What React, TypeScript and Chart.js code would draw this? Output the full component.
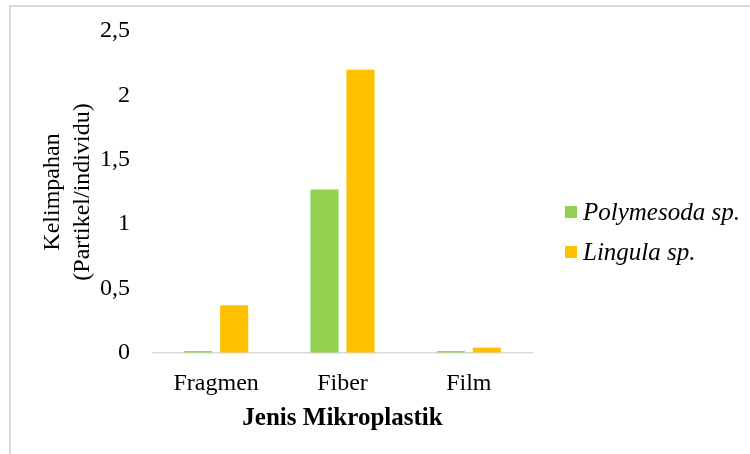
import React, { useEffect, useRef } from "react";
import { Chart, registerables } from "chart.js";

Chart.register(...registerables);

const categories = ["Fragmen", "Fiber", "Film"];
const polymesodaValues = [0.015, 1.27, 0.015];
const lingulaValues = [0.37, 2.2, 0.042];
const seriesNames = ["Polymesoda sp.", "Lingula sp."];
const seriesColors = ["#92D050", "#FFC000"];
const yTicks = [0, 0.5, 1, 1.5, 2, 2.5];
const yTitle = ["Kelimpahan", "(Partikel/individu)"];
const xTitle = "Jenis Mikroplastik";

const FONT = "'Liberation Serif', 'Times New Roman', serif";

// Legend drawn to the right of the plot, from the datasets' own labels/colours
const sideLegend = {
  id: "sideLegend",
  afterDraw(chart: any) {
    const ctx = chart.ctx;
    const area = chart.chartArea;
    const x0 = area.right + 33;
    const y0 = 212;
    const gap = 40;
    ctx.save();
    ctx.font = `italic 25px ${FONT}`;
    ctx.textBaseline = "middle";
    ctx.textAlign = "left";
    chart.data.datasets.forEach((ds: any, i: number) => {
      const cy = y0 + i * gap;
      ctx.fillStyle = ds.backgroundColor;
      ctx.fillRect(x0, cy - 6, 12, 12);
      ctx.fillStyle = "#000";
      ctx.fillText(ds.label, x0 + 18, cy + 1);
    });
    ctx.restore();
  },
};

export default function App() {
  const canvasRef = useRef<HTMLCanvasElement | null>(null);

  useEffect(() => {
    if (!canvasRef.current) return;
    const chart = new Chart(canvasRef.current, {
      type: "bar",
      data: {
        labels: categories,
        datasets: [
          {
            label: seriesNames[0],
            data: polymesodaValues,
            backgroundColor: seriesColors[0],
            borderWidth: 0,
            categoryPercentage: 0.57,
            barPercentage: 0.78,
          },
          {
            label: seriesNames[1],
            data: lingulaValues,
            backgroundColor: seriesColors[1],
            borderWidth: 0,
            categoryPercentage: 0.57,
            barPercentage: 0.78,
          },
        ],
      },
      options: {
        animation: false,
        responsive: true,
        maintainAspectRatio: false,
        layout: { padding: { top: 31, bottom: 20, left: 30, right: 218 } },
        plugins: {
          tooltip: { enabled: false },
          legend: { display: false },
        },
        scales: {
          x: {
            grid: { display: false, drawTicks: false },
            border: { display: true, color: "#D9D9D9", width: 1.5 },
            ticks: { color: "#000", padding: 16, font: { family: FONT, size: 24 } },
            title: {
              display: true,
              text: xTitle,
              color: "#000",
              padding: { top: 0, bottom: 0 },
              font: { family: FONT, size: 25, weight: "bold", lineHeight: 1.2 },
            },
            afterFit: (scale: any) => {
              scale.height = 81;
            },
          },
          y: {
            min: 0,
            max: 2.5,
            afterBuildTicks: (scale: any) => {
              scale.ticks = yTicks.map((v) => ({ value: v }));
            },
            grid: {
              display: true,
              drawOnChartArea: false,
              drawTicks: true,
              tickLength: 13,
              color: "rgba(0,0,0,0)",
            },
            border: { display: false },
            ticks: {
              color: "#000",
              padding: 10,
              font: { family: FONT, size: 24 },
              callback: (v: any) => String(v).replace(".", ","),
            },
            title: {
              display: true,
              text: yTitle,
              color: "#000",
              padding: { top: 8, bottom: 2 },
              font: { family: FONT, size: 24, lineHeight: 1.25 },
            },
            afterFit: (scale: any) => {
              scale.width = 123;
            },
          },
        },
      },
      plugins: [sideLegend],
    });
    return () => chart.destroy();
  }, []);

  return (
    <div
      style={{
        position: "absolute",
        left: 0,
        top: 0,
        width: 750,
        height: 454,
        overflow: "hidden",
        background: "#fff",
      }}
    >
      <div
        style={{
          position: "absolute",
          left: 9,
          top: 5,
          width: 760,
          height: 470,
          borderLeft: "2px solid #D9D9D9",
          borderTop: "2px solid #D9D9D9",
        }}
      />
      <div style={{ position: "absolute", left: 0, top: 0, width: 750, height: 454 }}>
        <canvas ref={canvasRef} />
      </div>
    </div>
  );
}
